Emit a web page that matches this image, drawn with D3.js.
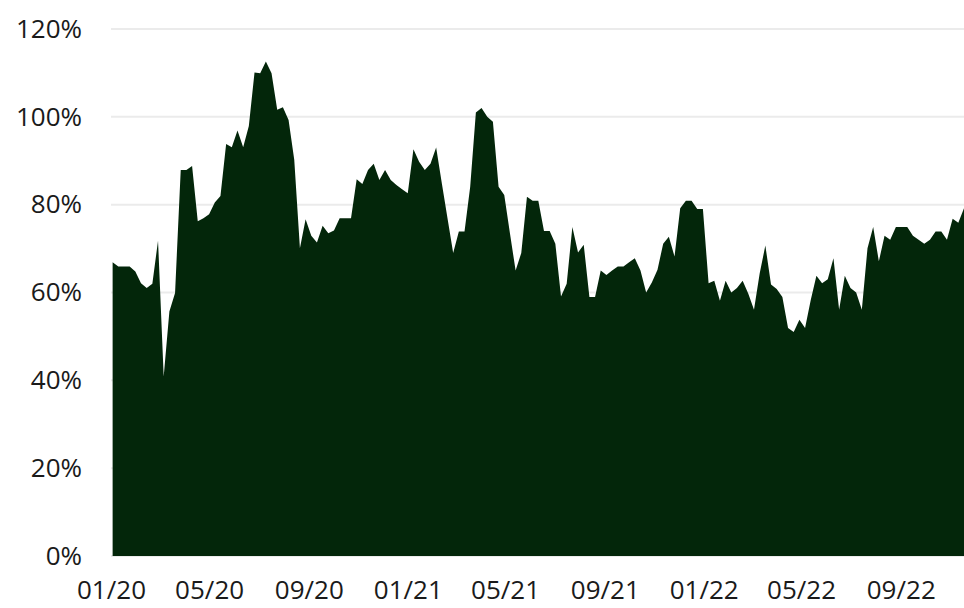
<!DOCTYPE html>
<html>
<head>
<meta charset="utf-8">
<script src="https://cdn.jsdelivr.net/npm/d3@7"></script>
<style>
  body { margin: 0; background: #ffffff; }
  .axis text { font-family: "Open Sans", sans-serif; font-size: 26px; fill: #1a1a1a; }
  .axis path, .axis line { display: none; }
</style>
</head>
<body>
<div id="chart"></div>
<script>
// weekly values (%), first week ending 2020-01-03
var firstWeek = "2020-01-03";
var lastDay = "2022-11-18";
var weeklyValues = [
  66.9, 65.9, 65.9, 65.9, 64.8, 62.1, 61.0, 62.0, 71.8, 40.9,
  55.7, 59.9, 87.9, 87.9, 88.8, 76.2, 76.9, 77.8, 80.5, 82.0,
  93.8, 93.1, 96.9, 93.1, 97.9, 110.1, 109.9, 112.6, 109.9, 101.6,
  102.2, 99.3, 90.2, 70.1, 76.7, 72.9, 71.4, 75.2, 73.5, 74.1,
  76.9, 76.9, 76.9, 85.8, 84.7, 87.9, 89.3, 85.6, 87.9, 85.6,
  84.5, 83.5, 82.6, 92.6, 89.8, 87.9, 89.3, 93.0, 84.9, 76.9,
  69.0, 73.9, 73.9, 84.1, 101.0, 102.0, 100.0, 98.9, 84.1, 82.2,
  73.5, 65.0, 69.0, 81.8, 80.9, 80.9, 74.0, 74.0, 71.1, 59.1,
  62.0, 74.9, 69.1, 70.9, 59.0, 59.0, 65.0, 64.0, 65.0, 65.9,
  65.9, 66.9, 67.8, 65.0, 60.0, 62.3, 65.2, 71.1, 72.7, 68.2,
  79.2, 80.9, 80.9, 79.0, 79.0, 62.1, 62.7, 58.1, 62.7, 60.0,
  61.0, 62.7, 59.7, 56.1, 64.3, 70.7, 61.8, 60.8, 59.0, 51.9,
  51.0, 53.8, 51.9, 58.3, 63.8, 62.1, 63.0, 67.8, 56.1, 63.8,
  61.0, 60.0, 56.1, 70.1, 74.9, 67.1, 72.9, 72.0, 74.9, 74.9,
  74.9, 72.9, 72.0, 71.1, 72.0, 73.9, 73.9, 72.0, 76.8, 75.9,
  79.2
];
var yTickValues = [0, 20, 40, 60, 80, 100, 120];
var xTickLabels = ["01/20", "05/20", "09/20", "01/21", "05/21", "09/21", "01/22", "05/22", "09/22"];

//drawing the chart area

var svgWidth = 964;
var svgHeight = 608;
var margin = { top: 29, right: 0, bottom: 52, left: 111 };
var width = svgWidth - margin.left - margin.right;
var height = svgHeight - margin.top - margin.bottom;

var svg = d3.select("#chart")
  .append("svg")
  .attr("width", svgWidth)
  .attr("height", svgHeight)
  .append("g")
  .attr("transform", "translate(" + margin.left + "," + margin.top + ")");

var parseDay = d3.timeParse("%Y-%m-%d");
var parseLabel = d3.timeParse("%m/%y");
var start = parseDay(firstWeek);

var data = weeklyValues.map(function (v, i) {
  return { date: d3.timeDay.offset(start, 7 * i), value: v };
});

// scaling
var xScale = d3.scaleTime()
  .domain([parseLabel(xTickLabels[0]), parseDay(lastDay)])
  .range([0, width]);
var yScale = d3.scaleLinear().domain([0, 120]).range([height, 0]);

// gridlines
svg.append("g")
  .selectAll("line")
  .data(yTickValues)
  .enter()
  .append("line")
  .attr("x1", 0)
  .attr("x2", width)
  .attr("y1", function (d) { return yScale(d); })
  .attr("y2", function (d) { return yScale(d); })
  .attr("stroke", "#ebebeb")
  .attr("stroke-width", 2);

var area = d3.area()
  .x(function (d) { return xScale(d.date); })
  .y0(yScale(0))
  .y1(function (d) { return yScale(d.value); });

svg.append("path")
  .datum(data)
  .attr("fill", "#03260a")
  .attr("d", area);

// axes
var leftAxis = d3.axisLeft(yScale)
  .tickValues(yTickValues)
  .tickSize(0)
  .tickPadding(29)
  .tickFormat(function (d) { return d + "%"; });

var bottomAxis = d3.axisBottom(xScale)
  .tickValues(xTickLabels.map(parseLabel))
  .tickSize(0)
  .tickPadding(25)
  .tickFormat(d3.timeFormat("%m/%y"));

svg.append("g").attr("class", "axis").call(leftAxis);

svg.append("g")
  .attr("class", "axis")
  .attr("transform", "translate(0," + height + ")")
  .call(bottomAxis);
</script>
</body>
</html>
